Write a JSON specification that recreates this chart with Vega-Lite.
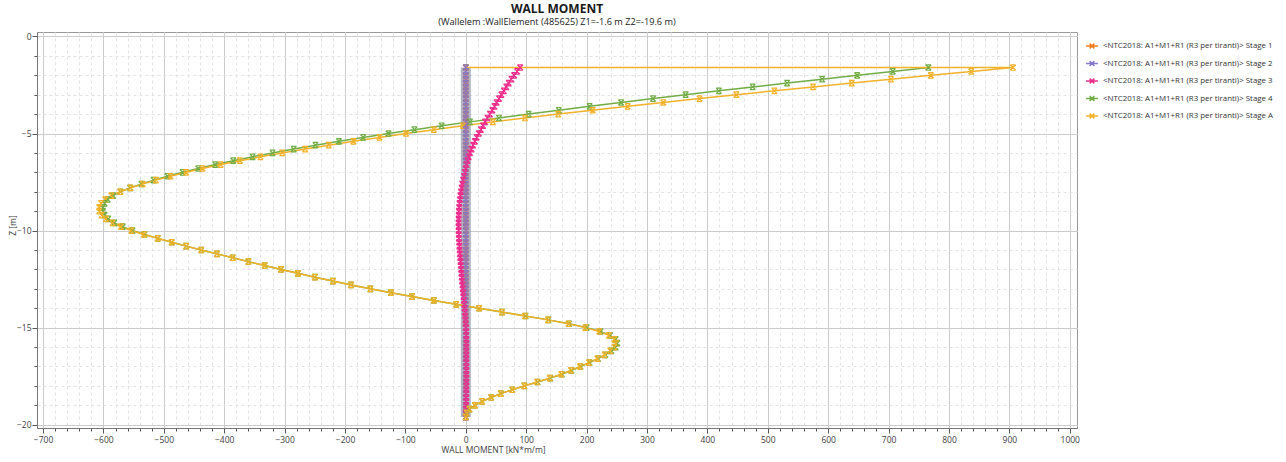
{
  "$schema": "https://vega.github.io/schema/vega-lite/v6.json",
  "width": 1040,
  "height": 396,
  "autosize": "none",
  "padding": {"left": 37, "top": 32, "right": 209, "bottom": 34},
  "background": "white",
  "config": {
    "font": "Open Sans",
    "view": {"stroke": "#9a9a9a", "strokeWidth": 1}
  },
  "title": {
    "text": "WALL MOMENT",
    "subtitle": "(Wallelem :WallElement (485625) Z1=-1.6 m Z2=-19.6 m)",
    "anchor": "middle",
    "frame": "group",
    "fontSize": 12,
    "fontWeight": "bold",
    "color": "#1a1a1a",
    "subtitleFontSize": 9.2,
    "subtitleColor": "#222222",
    "offset": 4,
    "subtitlePadding": 2
  },
  "datasets": {
    "wall": [{"m": 0, "top": -1.6, "bottom": -19.6}],
    "moment": [
      {"z":-1.6,"SA":0},
      {"z":-1.6,"S1":0,"S2":0,"S3":90,"S4":766,"SA":906},
      {"z":-1.8,"S1":0,"S2":0,"S3":85,"S4":707,"SA":837},
      {"z":-2.0,"S1":0,"S2":0,"S3":80,"S4":648,"SA":770},
      {"z":-2.2,"S1":0,"S2":0,"S3":75.5,"S4":590,"SA":704},
      {"z":-2.4,"S1":0,"S2":0,"S3":71,"S4":532,"SA":639},
      {"z":-2.6,"S1":0,"S2":0,"S3":67,"S4":475,"SA":575},
      {"z":-2.8,"S1":0,"S2":0,"S3":63,"S4":419,"SA":511},
      {"z":-3.0,"S1":0,"S2":0,"S3":59,"S4":364,"SA":448},
      {"z":-3.2,"S1":0,"S2":0,"S3":55,"S4":310,"SA":387},
      {"z":-3.4,"S1":0,"S2":0,"S3":51,"S4":257,"SA":327},
      {"z":-3.6,"S1":0,"S2":0,"S3":47.5,"S4":205,"SA":268},
      {"z":-3.8,"S1":0,"S2":0,"S3":44,"S4":154,"SA":210},
      {"z":-4.0,"S1":0,"S2":0,"S3":40,"S4":104,"SA":153},
      {"z":-4.2,"S1":0,"S2":0,"S3":36,"S4":55,"SA":98},
      {"z":-4.4,"S1":0,"S2":0,"S3":32,"S4":7,"SA":45},
      {"z":-4.6,"S1":0,"S2":0,"S3":28.5,"S4":-40,"SA":-5},
      {"z":-4.8,"S1":0,"S2":0,"S3":25,"S4":-85,"SA":-53},
      {"z":-5.0,"S1":0,"S2":0,"S3":21.5,"S4":-128,"SA":-99},
      {"z":-5.2,"S1":0,"S2":0,"S3":18,"S4":-170,"SA":-143},
      {"z":-5.4,"S1":0,"S2":0,"S3":15,"S4":-210,"SA":-186},
      {"z":-5.6,"S1":0,"S2":0,"S3":12,"S4":-249,"SA":-227},
      {"z":-5.8,"S1":0,"S2":0,"S3":9.5,"S4":-285,"SA":-266},
      {"z":-6.0,"S1":0,"S2":0,"S3":7,"S4":-320,"SA":-304},
      {"z":-6.2,"S1":0,"S2":0,"S3":5,"S4":-353,"SA":-340},
      {"z":-6.4,"S1":0,"S2":0,"S3":3,"S4":-385,"SA":-374},
      {"z":-6.6,"S1":0,"S2":0,"S3":1.5,"S4":-415,"SA":-406},
      {"z":-6.8,"S1":0,"S2":0,"S3":0,"S4":-443,"SA":-436},
      {"z":-7.0,"S1":0,"S2":0,"S3":-1.5,"S4":-469,"SA":-463},
      {"z":-7.2,"S1":0,"S2":0,"S3":-3,"S4":-494,"SA":-489},
      {"z":-7.4,"S1":0,"S2":0,"S3":-4.5,"S4":-517,"SA":-513},
      {"z":-7.6,"S1":0,"S2":0,"S3":-5.8,"S4":-537,"SA":-535},
      {"z":-7.8,"S1":0,"S2":0,"S3":-7,"S4":-556,"SA":-555},
      {"z":-8.0,"S1":0,"S2":0,"S3":-8,"S4":-572,"SA":-572},
      {"z":-8.2,"S1":0,"S2":0,"S3":-9,"S4":-584,"SA":-587},
      {"z":-8.4,"S1":0,"S2":0,"S3":-9.8,"S4":-593,"SA":-597},
      {"z":-8.6,"S1":0,"S2":0,"S3":-10.5,"S4":-598,"SA":-604},
      {"z":-8.8,"S1":0,"S2":0,"S3":-11,"S4":-601,"SA":-607},
      {"z":-9.0,"S1":0,"S2":0,"S3":-11.4,"S4":-601,"SA":-607},
      {"z":-9.2,"S1":0,"S2":0,"S3":-11.7,"S4":-598,"SA":-603},
      {"z":-9.4,"S1":0,"S2":0,"S3":-11.9,"S4":-592,"SA":-596},
      {"z":-9.6,"S1":0,"S2":0,"S3":-12,"S4":-582,"SA":-585},
      {"z":-9.8,"S1":0,"S2":0,"S3":-12,"S4":-568,"SA":-571},
      {"z":-10.0,"S1":0,"S2":0,"S3":-11.9,"S4":-552,"SA":-554},
      {"z":-10.2,"S1":0,"S2":0,"S3":-11.7,"S4":-532,"SA":-533},
      {"z":-10.4,"S1":0,"S2":0,"S3":-11.4,"S4":-510,"SA":-510},
      {"z":-10.6,"S1":0,"S2":0,"S3":-11,"S4":-487,"SA":-487},
      {"z":-10.8,"S1":0,"S2":0,"S3":-10.6,"S4":-463,"SA":-463},
      {"z":-11.0,"S1":0,"S2":0,"S3":-10.2,"S4":-438,"SA":-438},
      {"z":-11.2,"S1":0,"S2":0,"S3":-9.8,"S4":-412,"SA":-412},
      {"z":-11.4,"S1":0,"S2":0,"S3":-9.3,"S4":-386,"SA":-386},
      {"z":-11.6,"S1":0,"S2":0,"S3":-8.8,"S4":-360,"SA":-360},
      {"z":-11.8,"S1":0,"S2":0,"S3":-8.3,"S4":-333,"SA":-333},
      {"z":-12.0,"S1":0,"S2":0,"S3":-7.8,"S4":-306,"SA":-306},
      {"z":-12.2,"S1":0,"S2":0,"S3":-7.3,"S4":-278,"SA":-278},
      {"z":-12.4,"S1":0,"S2":0,"S3":-6.8,"S4":-250,"SA":-250},
      {"z":-12.6,"S1":0,"S2":0,"S3":-6.2,"S4":-220,"SA":-220},
      {"z":-12.8,"S1":0,"S2":0,"S3":-5.6,"S4":-190,"SA":-190},
      {"z":-13.0,"S1":0,"S2":0,"S3":-5,"S4":-158,"SA":-158},
      {"z":-13.2,"S1":0,"S2":0,"S3":-4.4,"S4":-124,"SA":-124},
      {"z":-13.4,"S1":0,"S2":0,"S3":-3.8,"S4":-89,"SA":-89},
      {"z":-13.6,"S1":0,"S2":0,"S3":-3.2,"S4":-53,"SA":-53},
      {"z":-13.8,"S1":0,"S2":0,"S3":-2.6,"S4":-16,"SA":-16},
      {"z":-14.0,"S1":0,"S2":0,"S3":-2,"S4":22,"SA":22},
      {"z":-14.2,"S1":0,"S2":0,"S3":-1.5,"S4":60,"SA":60},
      {"z":-14.4,"S1":0,"S2":0,"S3":-1,"S4":99,"SA":98},
      {"z":-14.6,"S1":0,"S2":0,"S3":-0.5,"S4":137,"SA":136},
      {"z":-14.8,"S1":0,"S2":0,"S3":0,"S4":171,"SA":170},
      {"z":-15.0,"S1":0,"S2":0,"S3":0.3,"S4":200,"SA":198},
      {"z":-15.2,"S1":0,"S2":0,"S3":0.6,"S4":223,"SA":221},
      {"z":-15.4,"S1":0,"S2":0,"S3":0.8,"S4":239,"SA":237},
      {"z":-15.6,"S1":0,"S2":0,"S3":1,"S4":248,"SA":246},
      {"z":-15.8,"S1":0,"S2":0,"S3":1,"S4":251,"SA":249},
      {"z":-16.0,"S1":0,"S2":0,"S3":1,"S4":248,"SA":246},
      {"z":-16.2,"S1":0,"S2":0,"S3":1,"S4":241,"SA":239},
      {"z":-16.4,"S1":0,"S2":0,"S3":1,"S4":231,"SA":230},
      {"z":-16.6,"S1":0,"S2":0,"S3":1,"S4":219,"SA":218},
      {"z":-16.8,"S1":0,"S2":0,"S3":1,"S4":205,"SA":204},
      {"z":-17.0,"S1":0,"S2":0,"S3":1,"S4":190,"SA":189},
      {"z":-17.2,"S1":0,"S2":0,"S3":1,"S4":175,"SA":174},
      {"z":-17.4,"S1":0,"S2":0,"S3":1,"S4":159,"SA":158},
      {"z":-17.6,"S1":0,"S2":0,"S3":1,"S4":140,"SA":139},
      {"z":-17.8,"S1":0,"S2":0,"S3":1,"S4":119,"SA":118},
      {"z":-18.0,"S1":0,"S2":0,"S3":1,"S4":97,"SA":97},
      {"z":-18.2,"S1":0,"S2":0,"S3":0.9,"S4":77,"SA":77},
      {"z":-18.4,"S1":0,"S2":0,"S3":0.8,"S4":58,"SA":58},
      {"z":-18.6,"S1":0,"S2":0,"S3":0.7,"S4":42,"SA":42},
      {"z":-18.8,"S1":0,"S2":0,"S3":0.6,"S4":27,"SA":27},
      {"z":-19.0,"S1":0,"S2":0,"S3":0.5,"S4":15,"SA":15},
      {"z":-19.2,"S1":0,"S2":0,"S3":0.3,"S4":6,"SA":6},
      {"z":-19.4,"S1":0,"S2":0,"S3":0.1,"S4":1.5,"SA":1.5},
      {"z":-19.6,"S1":0,"S2":0,"S3":0,"S4":0,"SA":0}
    ]
  },
  "layer": [
    {
      "data": {"name": "wall"},
      "mark": {"type": "rule", "strokeWidth": 10, "color": "#9ea3b5", "opacity": 0.8, "strokeCap": "butt"},
      "encoding": {
        "x": {
          "field": "m",
          "type": "quantitative",
          "scale": {"domain": [-710, 1012], "nice": false, "zero": false},
          "axis": {
            "orient": "bottom",
            "tickCount": 86,
            "labels": false,
            "title": null,
            "domain": false,
            "grid": true,
            "gridColor": "#e2e2e2",
            "gridDash": [3, 3],
            "gridWidth": 1,
            "ticks": true,
            "tickSize": 3,
            "tickColor": "#555555"
          }
        },
        "y": {
          "field": "top",
          "type": "quantitative",
          "scale": {"domain": [-20.17, 0.23], "nice": false, "zero": false},
          "axis": {
            "orient": "left",
            "tickCount": 20,
            "labels": false,
            "title": null,
            "domain": false,
            "grid": true,
            "gridColor": "#e2e2e2",
            "gridDash": [3, 3],
            "gridWidth": 1,
            "ticks": true,
            "tickSize": 3,
            "tickColor": "#555555"
          }
        },
        "y2": {"field": "bottom"}
      }
    },
    {
      "data": {"name": "moment"},
      "transform": [
        {"fold": ["S1", "S2", "S3", "S4", "SA"], "as": ["stage", "M"]}
      ],
      "mark": {
        "type": "line",
        "strokeWidth": 1.5,
        "point": {
          "shape": "M-1,-1L1,1M-1,1L1,-1M-1,-1H1M-1,1H1",
          "filled": false,
          "size": 30,
          "strokeWidth": 1.2
        }
      },
      "encoding": {
        "x": {
          "field": "M",
          "type": "quantitative",
          "scale": {"domain": [-710, 1012], "nice": false, "zero": false},
          "axis": {
            "orient": "bottom",
            "values": [-700, -600, -500, -400, -300, -200, -100, 0, 100, 200, 300, 400, 500, 600, 700, 800, 900, 1000],
            "format": "d",
            "grid": true,
            "gridColor": "#cccccc",
            "gridWidth": 1,
            "domainColor": "#777777",
            "tickColor": "#555555",
            "tickSize": 5,
            "labelFontSize": 8.5,
            "labelColor": "#404040",
            "labelPadding": 2,
            "title": "WALL MOMENT [kN*m/m]",
            "titleFontSize": 8.5,
            "titleFontWeight": "normal",
            "titleColor": "#404040",
            "titleX": 456,
            "titleY": 21,
            "titleAlign": "center",
            "titleBaseline": "middle"
          }
        },
        "y": {
          "field": "z",
          "type": "quantitative",
          "scale": {"domain": [-20.17, 0.23], "nice": false, "zero": false},
          "axis": {
            "orient": "left",
            "values": [0, -5, -10, -15, -20],
            "grid": true,
            "gridColor": "#cccccc",
            "gridWidth": 1,
            "domainColor": "#777777",
            "tickColor": "#555555",
            "tickSize": 5,
            "labelFontSize": 8.5,
            "labelColor": "#404040",
            "labelPadding": 1,
            "title": "Z [m]",
            "titleFontSize": 8.5,
            "titleFontWeight": "normal",
            "titleColor": "#404040",
            "titleX": -25,
            "titleY": 193,
            "titleAlign": "center",
            "titleBaseline": "middle"
          }
        },
        "color": {
          "field": "stage",
          "type": "nominal",
          "scale": {
            "domain": ["S1", "S2", "S3", "S4", "SA"],
            "range": ["#f07d1e", "#8579c9", "#ec2c8c", "#71ad45", "#f2b128"]
          },
          "legend": {
            "orient": "none",
            "legendX": 1048,
            "legendY": 7,
            "title": null,
            "labelFontSize": 7.9,
            "labelLimit": 0,
            "labelColor": "#333333",
            "labelExpr": "'<NTC2018: A1+M1+R1 (R3 per tiranti)> Stage ' + substring(datum.label, 1)",
            "symbolType": "M-1,0H1M-0.4,-0.4L0.4,0.4M-0.4,0.4L0.4,-0.4",
            "symbolSize": 140,
            "symbolStrokeWidth": 1.5,
            "symbolFillColor": "transparent",
            "rowPadding": 4.5
          }
        },
        "order": {"value": null}
      }
    }
  ],
  "resolve": {"axis": {"x": "independent", "y": "independent"}}
}
